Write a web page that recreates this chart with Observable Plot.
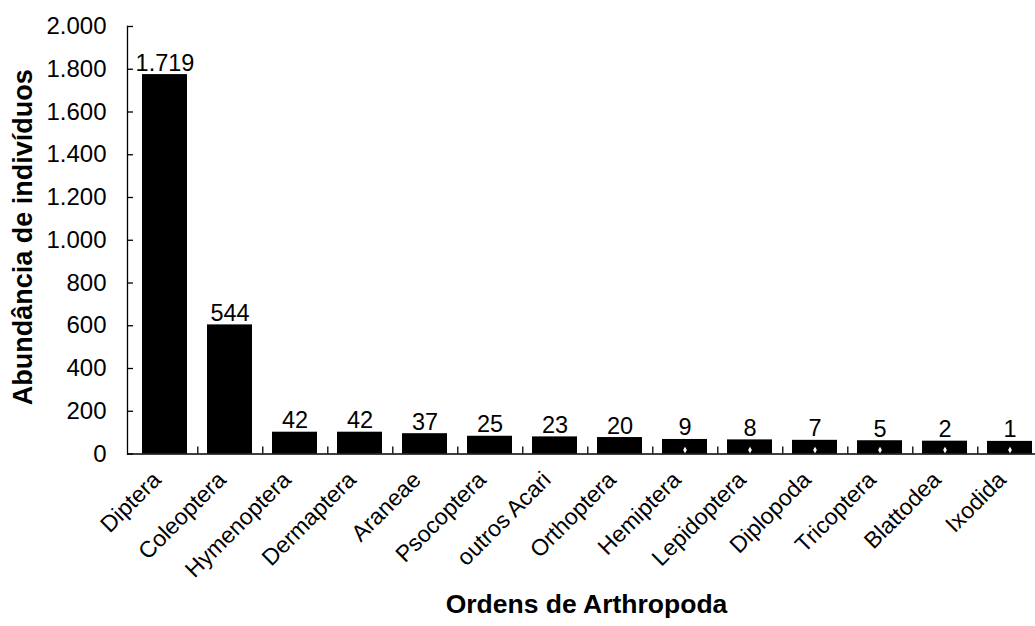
<!DOCTYPE html>
<html>
<head>
<meta charset="utf-8">
<script src="https://cdn.jsdelivr.net/npm/d3@7"></script>
<script src="https://cdn.jsdelivr.net/npm/@observablehq/plot@0.6"></script>
<style>
  html, body { margin: 0; padding: 0; background: white; overflow: hidden; }
</style>
</head>
<body>
<div id="chart"></div>
<script>
const categories = ["Diptera", "Coleoptera", "Hymenoptera", "Dermaptera", "Araneae", "Psocoptera", "outros Acari", "Orthoptera", "Hemiptera", "Lepidoptera", "Diplopoda", "Tricoptera", "Blattodea", "Ixodida"];
const counts = [1719, 544, 42, 42, 37, 25, 23, 20, 9, 8, 7, 5, 2, 1];
const barHeights = [1775, 604, 102, 102, 95, 83, 80, 77, 68, 66, 64, 62, 60, 59];
const yTicks = [0, 200, 400, 600, 800, 1000, 1200, 1400, 1600, 1800, 2000];
const markedCategories = ["Hemiptera", "Lepidoptera", "Diplopoda", "Tricoptera", "Blattodea", "Ixodida"];
const yTitle = "Abundância de indivíduos";
const xTitle = "Ordens de Arthropoda";

const fmt = v => d3.format(",")(v).replace(/,/g, ".");
const data = categories.map((c, i) => ({ordem: c, rotulo: counts[i], altura: barHeights[i]}));

const font = "'Liberation Sans', Arial, sans-serif";
const step = (1045.7 - 127.3) / categories.length;

const chart = Plot.plot({
  width: 1035,
  height: 626,
  marginTop: 26,
  marginBottom: 172.5,
  marginLeft: 127,
  marginRight: 0,
  style: {fontFamily: font, fontSize: "22px", background: "white", color: "black"},
  x: {domain: categories, range: [127.3, 1045.7], paddingInner: 0.31, paddingOuter: 0.155, axis: null},
  y: {domain: [0, 2000], axis: null},
  marks: [
    Plot.barY(data, {x: "ordem", y: "altura", fill: "black"}),
    Plot.dot(markedCategories, {x: d => d, frameAnchor: "bottom", dy: -4, symbol: "diamond", r: 2, fill: "white"}),
    Plot.text(data, {x: "ordem", y: "altura", text: d => fmt(d.rotulo), dy: -4, lineAnchor: "bottom", fontSize: 23.5, fill: "black"}),
    Plot.ruleY([0], {stroke: "black", strokeWidth: 1.3}),
    Plot.frame({anchor: "left", stroke: "black", strokeWidth: 1.3}),
    Plot.axisY({ticks: yTicks, tickSize: -6, text: null, strokeWidth: 1.3, label: null}),
    Plot.axisY({ticks: yTicks, tickSize: 0, tickPadding: 21, tickFormat: fmt, fontSize: 24, fill: "black", label: null}),
    Plot.axisX({tickSize: -7, text: null, dx: step / 2, strokeWidth: 1.3, label: null}),
    Plot.axisX({tickSize: 0, tickPadding: 22, tickRotate: -45, dx: -8, fontSize: 23, fill: "black", label: null}),
    Plot.text([yTitle], {frameAnchor: "left", textAnchor: "middle", lineAnchor: "middle", dx: -104, dy: -3, rotate: -90, fontWeight: "bold", fontSize: 27, fill: "black"}),
    Plot.text([xTitle], {frameAnchor: "bottom", textAnchor: "middle", lineAnchor: "middle", dx: 5, dy: 150.5, fontWeight: "bold", fontSize: 26.5, fill: "black"})
  ]
});
document.getElementById("chart").appendChild(chart);
</script>
</body>
</html>
